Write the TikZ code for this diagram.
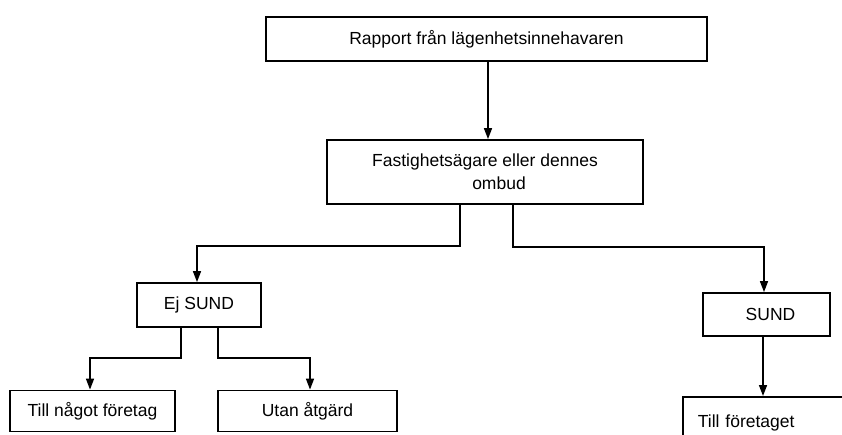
\documentclass[tikz,border=0pt]{standalone}
\usepackage{fontspec}
\setmainfont{Liberation Sans}
\usetikzlibrary{arrows.meta}
\begin{document}
\begin{tikzpicture}[x=1pt,y=-1pt,
  box/.style={draw, line width=1.8pt, inner sep=0pt, font=\fontsize{17.5}{23}\selectfont},
  arr/.style={line width=1.5pt, -{Triangle[length=11pt,width=8pt]}},
  ln/.style={line width=1.5pt}]
\useasboundingbox (0,0) rectangle (842,434);
\clip (0,0) rectangle (842,434);
\node[box, minimum width=441pt, minimum height=44pt] (top) at (486.5,39) {Rapport från lägenhetsinnehavaren};
\node[box, minimum width=316pt, minimum height=64pt, align=center] (mid) at (485,172) {Fastighetsägare eller dennes\\\hspace*{28pt}ombud};
\node[box, minimum width=124pt, minimum height=44pt] (ej) at (199,305) {Ej SUND};
\node[box, minimum width=127pt, minimum height=43pt] (sund) at (766.5,314.5) {\hspace*{8pt}SUND};
\node[box, minimum width=165pt, minimum height=41pt] (nagot) at (92.5,411) {Till något företag};
\node[box, minimum width=179pt, minimum height=41pt] (utan) at (307.5,411) {Utan åtgärd};
\node[box, anchor=north west, text width=170pt, align=left, inner xsep=15pt, minimum height=52pt] (ftg) at (682,396) {Till företaget};
\draw[arr] (top.south -| 488,0) -- (mid.north -| 488,0);
\draw[arr] (mid.south -| 460,0) -- (460,246) -| (ej.north -| 197,0);
\draw[arr] (mid.south -| 513,0) -- (513,247) -| (sund.north -| 764,0);
\draw[arr] (ej.south -| 181,0) -- (181,358) -| (nagot.north -| 90,0);
\draw[arr] (ej.south -| 218,0) -- (218,358) -| (utan.north -| 310,0);
\draw[arr] (sund.south -| 763,0) -- (ftg.north -| 763,0);
\end{tikzpicture}
\end{document}
